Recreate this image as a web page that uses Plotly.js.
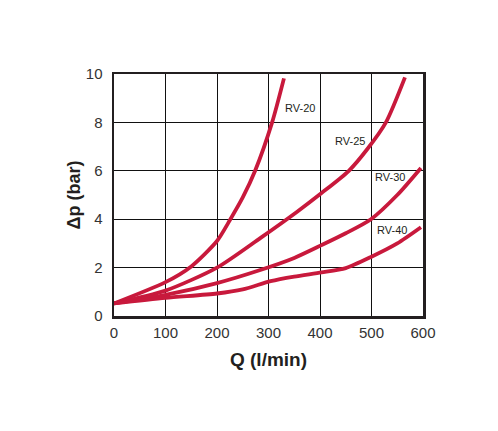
<!DOCTYPE html>
<html>
<head>
<meta charset="utf-8">
<script src="https://cdn.plot.ly/plotly-3.0.1.min.js"></script>
<style>html,body{margin:0;padding:0;background:#fff;}#chart{width:498px;height:431px;}</style>
</head>
<body>
<div id="chart"></div>
<script>
// Flow Q (l/min) and pressure drop Δp (bar) per valve size
const rv20Q  = [0, 100, 150, 200, 226, 250, 274, 307, 330];
const rv20Dp = [0.52, 1.4, 2.05, 3.1, 4.0, 4.9, 6.0, 8.0, 9.82];

const rv25Q  = [0, 100, 200, 284, 355, 403, 456, 492, 528, 565];
const rv25Dp = [0.52, 1.05, 2.0, 3.22, 4.3, 5.08, 6.0, 6.9, 8.0, 9.86];

const rv30Q  = [0, 100, 200, 284, 350, 403, 450, 499, 550, 596];
const rv30Dp = [0.52, 0.87, 1.36, 1.9, 2.4, 2.93, 3.42, 4.0, 5.0, 6.12];

const rv40Q  = [0, 100, 200, 250, 304, 350, 403, 450, 499, 550, 596];
const rv40Dp = [0.52, 0.75, 0.93, 1.1, 1.44, 1.63, 1.8, 1.98, 2.44, 3.0, 3.67];

const seriesNames = ['RV-20', 'RV-25', 'RV-30', 'RV-40'];
const labelQ  = [361, 459, 535, 540];
const labelDp = [8.61, 7.24, 5.75, 3.57];

const xTicks = [0, 100, 200, 300, 400, 500, 600];
const yTicks = [0, 2, 4, 6, 8, 10];

const red = '#c8193c';
const ink = '#231f20';
const font = '"Liberation Sans", Arial, Helvetica, sans-serif';

const xs = [rv20Q, rv25Q, rv30Q, rv40Q];
const ys = [rv20Dp, rv25Dp, rv30Dp, rv40Dp];

const traces = xs.map((x, i) => ({
  x: x, y: ys[i], name: seriesNames[i], type: 'scatter', mode: 'lines',
  line: {color: red, width: 3.8, shape: 'spline', smoothing: 0.7},
  hoverinfo: 'skip'
}));

const annotations = seriesNames.map((n, i) => ({
  x: labelQ[i], y: labelDp[i], xref: 'x', yref: 'y', text: n, showarrow: false,
  font: {family: font, size: 11, color: ink}, xanchor: 'center', yanchor: 'middle'
}));

const layout = {
  width: 498, height: 431,
  margin: {l: 114, r: 75, t: 74, b: 115, pad: 0},
  paper_bgcolor: '#fff', plot_bgcolor: '#fff',
  showlegend: false,
  font: {family: font, color: '#333'},
  xaxis: {
    range: [0, 600], tickvals: xTicks, ticktext: xTicks.map(String),
    showgrid: true, gridcolor: '#111', gridwidth: 1, zeroline: false,
    showline: true, mirror: true, linecolor: ink, linewidth: 2.5,
    ticks: '', tickfont: {size: 15, color: '#333', family: font},
    ticklabelstandoff: 1,
    title: {text: 'Q (l/min)', font: {size: 19, color: ink, family: font, weight: 'bold'}, standoff: 13},
    fixedrange: true
  },
  yaxis: {
    range: [0, 10], tickvals: yTicks, ticktext: yTicks.map(String),
    showgrid: true, gridcolor: '#111', gridwidth: 1, zeroline: false,
    showline: true, mirror: true, linecolor: ink, linewidth: 2.5,
    ticks: '', tickfont: {size: 15, color: '#333', family: font},
    ticklabelstandoff: 6,
    title: {text: 'Δp (bar)', font: {size: 18, color: ink, family: font, weight: 'bold'}, standoff: 1},
    fixedrange: true
  },
  annotations: annotations
};

Plotly.newPlot('chart', traces, layout, {displayModeBar: false, staticPlot: true});
</script>
</body>
</html>
